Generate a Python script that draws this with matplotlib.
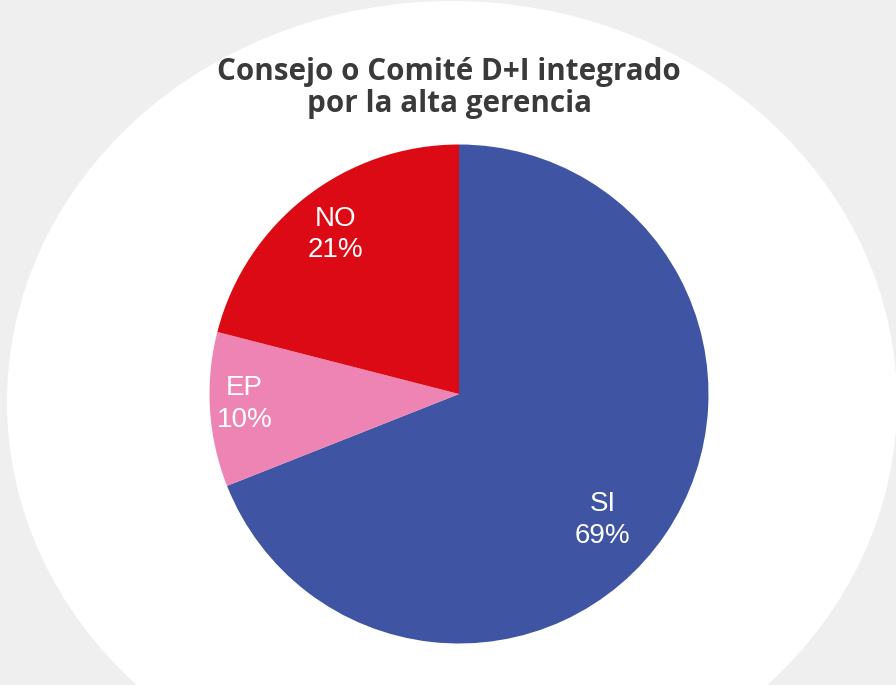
import matplotlib.pyplot as plt
import numpy as np
from matplotlib.patches import Ellipse

categories = ["SI", "EP", "NO"]
shares = [69, 10, 21]
colors = ["#3f55a3", "#ee84b4", "#dc0a14"]
title = "Consejo o Comité D+I integrado\npor la alta gerencia"

W, H = 896, 685
fig = plt.figure(figsize=(W / 100, H / 100), dpi=100, facecolor="#efefef")
ax = fig.add_axes([0, 0, 1, 1])

# white backdrop ellipse behind the chart
ax.add_patch(Ellipse((452, H - 402), 890, 802, facecolor="white", edgecolor="none", zorder=0))

center = (459, H - 394)
radius = 249.5
wedges, _ = ax.pie(
    shares,
    colors=colors,
    startangle=90,
    counterclock=False,
    center=center,
    radius=radius,
    wedgeprops={"linewidth": 0},
    frame=True,
)
ax.set_xlim(0, W)
ax.set_ylim(0, H)
ax.set_aspect("equal")
ax.axis("off")

# label placement: fraction of radius and small angle nudge per wedge
label_dist = [0.765, 0.86, 0.81]
angle_shift = [-7, -1, 0]
for w, cat, val, d, s in zip(wedges, categories, shares, label_dist, angle_shift):
    ang = np.deg2rad((w.theta1 + w.theta2) / 2 + s)
    x = center[0] + d * radius * np.cos(ang)
    y = center[1] + d * radius * np.sin(ang)
    ax.text(x, y, f"{cat}\n{val}%", ha="center", va="center", color="white",
            fontsize=20, family="Liberation Sans", linespacing=1.28)

fig.text(449 / W, 1 - 88 / H, title, ha="center", va="center", fontsize=21.3,
         fontweight="bold", family="Open Sans", color="#3a3a3a", linespacing=1.09)

fig.savefig("out.png", dpi=100, facecolor=fig.get_facecolor())
